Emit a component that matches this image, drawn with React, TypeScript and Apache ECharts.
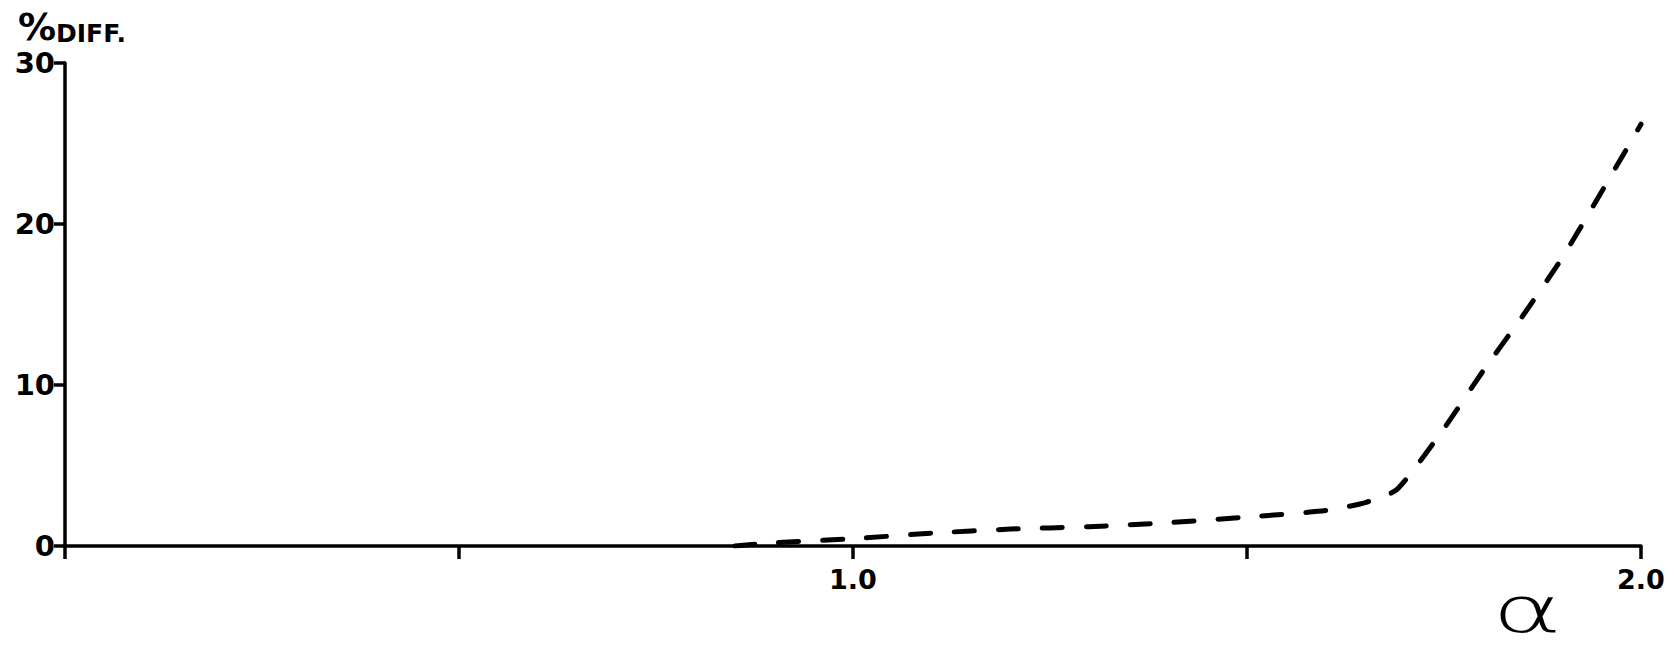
import React, { useEffect, useRef } from "react";
import * as echarts from "echarts";

// alpha values (x) and % difference (y)
const alphaValues = [0.85, 0.9, 1.0, 1.1, 1.2, 1.3, 1.4, 1.5, 1.6, 1.65, 1.69, 1.75, 1.8, 1.85, 1.9, 1.95, 2.0];
const diffValues = [0, 0.2, 0.45, 0.8, 1.05, 1.2, 1.45, 1.8, 2.2, 2.7, 3.5, 7.3, 10.9, 14.3, 17.9, 22.0, 26.2];
const xLabelledTicks = ["1.0", "2.0"];
const yTickLabels = ["0", "10", "20", "30"];

const FONT = "DejaVu Sans";

export default function App() {
  const ref = useRef<HTMLDivElement>(null);
  useEffect(() => {
    document.body.style.margin = "0";
    const chart = echarts.init(ref.current!, null, { renderer: "svg" });
    const data = alphaValues.map((a, i) => [a, diffValues[i]]);
    chart.setOption({
      animation: false,
      backgroundColor: "#ffffff",
      grid: { left: 65, right: 35, top: 63, bottom: 103, containLabel: false },
      xAxis: {
        type: "value",
        min: 0,
        max: 2,
        interval: 0.5,
        axisLine: { show: true, lineStyle: { color: "#000", width: 3.5 } },
        axisTick: { show: true, length: 13, lineStyle: { color: "#000", width: 3.5 } },
        splitLine: { show: false },
        axisLabel: {
          margin: 20,
          color: "#000",
          fontFamily: FONT,
          fontWeight: "bold",
          fontSize: 27,
          formatter: (v: number) => {
            const s = v.toFixed(1);
            return xLabelledTicks.includes(s) ? s : "";
          },
        },
      },
      yAxis: {
        type: "value",
        min: 0,
        max: 30,
        interval: 10,
        axisLine: { show: true, lineStyle: { color: "#000", width: 3.5 } },
        axisTick: { show: true, length: 11, lineStyle: { color: "#000", width: 3.5 } },
        splitLine: { show: false },
        axisLabel: {
          margin: 10,
          color: "#000",
          fontFamily: FONT,
          fontWeight: "bold",
          fontSize: 29,
          formatter: (v: number) => {
            const s = String(Math.round(v));
            return yTickLabels.includes(s) ? s : "";
          },
        },
      },
      series: [
        {
          type: "line",
          data,
          smooth: 0.2,
          symbol: "none",
          lineStyle: { color: "#000", width: 5, type: [20, 24], cap: "round" },
        },
      ],
      graphic: [
        {
          type: "text",
          left: 18,
          top: 8,
          style: {
            text: "{p|%}{d|DIFF.}",
            rich: {
              p: { fontFamily: FONT, fontSize: 38, fontWeight: "bold", fill: "#000", lineHeight: 40, verticalAlign: "bottom" },
              d: { fontFamily: FONT, fontSize: 25, fontWeight: "bold", fill: "#000", lineHeight: 40, verticalAlign: "bottom" },
            },
          },
        },
        {
          type: "text",
          x: 1527,
          y: 610,
          scaleX: 1.9,
          scaleY: 1.15,
          style: {
            x: 0,
            y: 0,
            text: "α",
            fontFamily: FONT,
            fontSize: 56,
            lineHeight: 56,
            fontWeight: 200,
            fill: "#000",
            align: "center",
            verticalAlign: "middle",
          },
        },
      ],
    });
    return () => chart.dispose();
  }, []);
  return <div ref={ref} style={{ width: 1676, height: 649 }} />;
}
